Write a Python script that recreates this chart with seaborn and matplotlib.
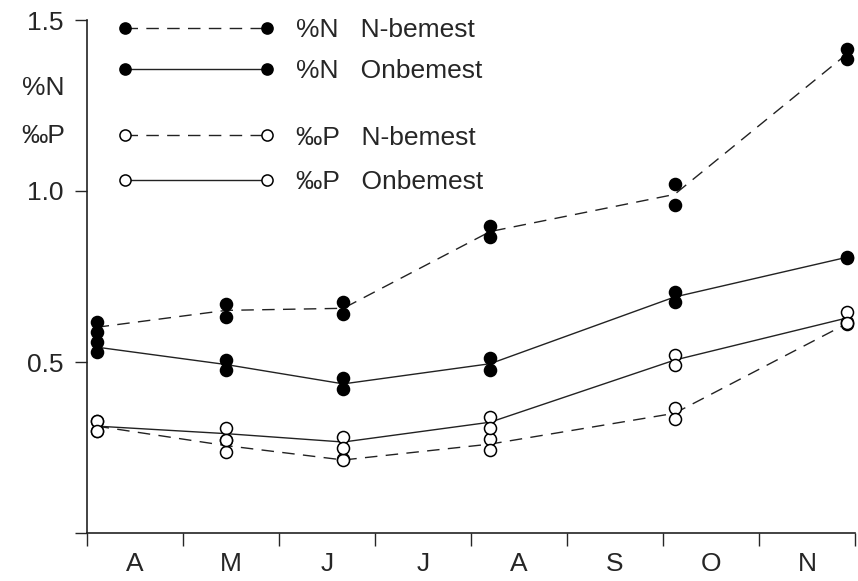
import pandas as pd
import matplotlib
matplotlib.use("Agg")
import matplotlib.pyplot as plt
import seaborn as sns
from matplotlib.lines import Line2D

# Month labels on the x axis (April .. November)
months = ["A", "M", "J", "J", "A", "S", "O", "N"]

# Sampling dates, in months after 1 April
sample_pos = [0.10, 1.45, 2.67, 4.20, 6.12, 7.92]

# Duplicate measurements per sampling date
n_fert = [[0.616, 0.587], [0.671, 0.631], [0.674, 0.640],
          [0.898, 0.865], [1.020, 0.960], [1.416, 1.387]]
n_unfert = [[0.558, 0.529], [0.507, 0.478], [0.452, 0.420],
            [0.512, 0.478], [0.706, 0.674], [0.808, 0.805]]
p_fert = [[0.328, 0.297], [0.273, 0.238], [0.215, 0.212],
          [0.276, 0.244], [0.366, 0.334], [0.616, 0.610]]
p_unfert = [[0.328, 0.297], [0.308, 0.273], [0.282, 0.250],
            [0.340, 0.308], [0.520, 0.491], [0.645, 0.613]]

series_labels = ["%N   N-bemest", "%N   Onbemest", "‰P   N-bemest", "‰P   Onbemest"]
y_ticks = [0, 0.5, 1.0, 1.5]
y_ticklabels = ["", "0.5", "1.0", "1.5"]

# long table: one row per measurement
rows = []
for label, vals in zip(series_labels, [n_fert, n_unfert, p_fert, p_unfert]):
    for x, reps in zip(sample_pos, vals):
        for v in reps:
            rows.append({"series": label, "month": x, "value": v})
df = pd.DataFrame(rows)

FS = 19

sns.set_style("ticks")
plt.rcParams["font.family"] = ["Liberation Sans", "DejaVu Sans"]
plt.rcParams["font.size"] = FS

fig = plt.figure(figsize=(8.58, 5.81), dpi=100)
ax = fig.add_axes([87 / 858, 1 - 533 / 581, 768 / 858, 513 / 581])

styles = {
    series_labels[0]: dict(dash=(9, 6), face="black"),
    series_labels[1]: dict(dash=None, face="black"),
    series_labels[2]: dict(dash=(9, 6), face="white"),
    series_labels[3]: dict(dash=None, face="white"),
}

for label in series_labels:
    sub = df[df["series"] == label]
    st = styles[label]
    sns.lineplot(data=sub, x="month", y="value", estimator="mean", errorbar=None,
                 color="#222222", lw=1.0, ax=ax, zorder=2)
    line = ax.lines[-1]
    if st["dash"] is not None:
        line.set_dashes(st["dash"])
    sns.scatterplot(data=sub, x="month", y="value", s=75, color=st["face"],
                    edgecolor="black", linewidth=1.1, ax=ax, zorder=3,
                    clip_on=False)

ax.set_xlim(0, 8)
ax.set_ylim(0, 1.5)
ax.set_xticks(range(0, 9))
ax.set_xticklabels([])
ax.set_xticks([i + 0.5 for i in range(8)], minor=True)
ax.set_xticklabels(months, minor=True)
ax.tick_params(axis="x", which="major", length=9, width=1.0, direction="out")
ax.tick_params(axis="x", which="minor", length=0, pad=14, labelsize=FS)
ax.set_yticks(y_ticks)
ax.set_yticklabels(y_ticklabels)
ax.tick_params(axis="y", length=9, width=1.0, pad=8, labelsize=FS)
ax.set_xlabel("")
ax.set_ylabel("")
sns.despine(ax=ax)
for sp in ["left", "bottom"]:
    ax.spines[sp].set_linewidth(1.2)
    ax.spines[sp].set_color("#222222")

fig.text(43 / 858, 1 - 88 / 581, "%N", ha="center", va="center", fontsize=FS)
fig.text(43 / 858, 1 - 136 / 581, "‰P", ha="center", va="center", fontsize=FS)

def handle(label):
    st = styles[label]
    return Line2D([0], [0], color="#222222", lw=1.0,
                  linestyle=(0, st["dash"]) if st["dash"] else "-",
                  marker="o", markersize=8, markerfacecolor=st["face"],
                  markeredgecolor="black", markeredgewidth=1.1)

leg_kw = dict(loc="upper left", frameon=False, numpoints=2, handlelength=6.0,
              handletextpad=0.8, borderpad=0, borderaxespad=0, fontsize=FS)
leg1 = ax.legend([handle(l) for l in series_labels[:2]], series_labels[:2],
                 bbox_to_anchor=(0.039, 1.004), labelspacing=0.66, **leg_kw)
ax.add_artist(leg1)
ax.legend([handle(l) for l in series_labels[2:]], series_labels[2:],
          bbox_to_anchor=(0.039, 0.794), labelspacing=0.78, **leg_kw)

fig.savefig("out.png", dpi=100)
